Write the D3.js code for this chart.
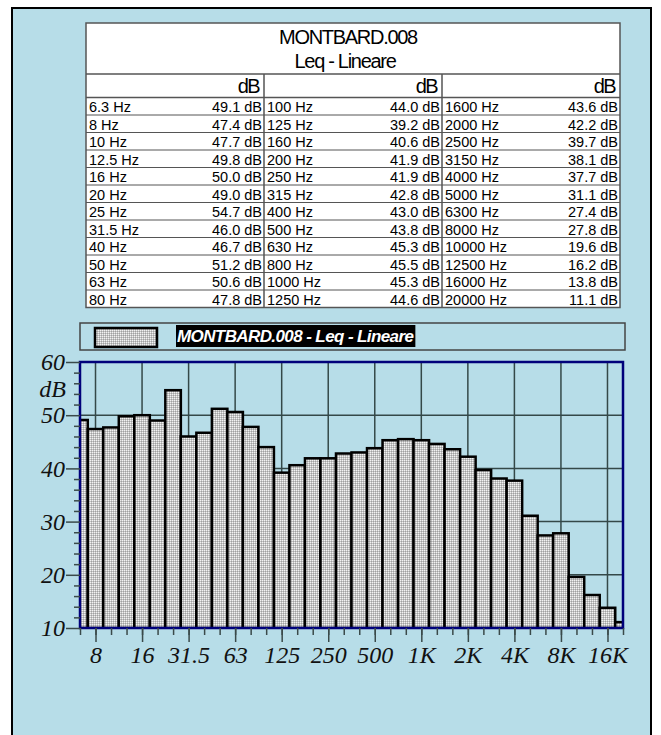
<!DOCTYPE html>
<html>
<head>
<meta charset="utf-8">
<script src="https://cdn.jsdelivr.net/npm/d3@7"></script>
<style>
body { margin: 0; background: #fff; }
</style>
</head>
<body>
<div id="chart_id"></div>
<script>
// third-octave bands and their Leq levels
var bands = ["6.3 Hz", "8 Hz", "10 Hz", "12.5 Hz", "16 Hz", "20 Hz", "25 Hz", "31.5 Hz", "40 Hz", "50 Hz", "63 Hz", "80 Hz",
  "100 Hz", "125 Hz", "160 Hz", "200 Hz", "250 Hz", "315 Hz", "400 Hz", "500 Hz", "630 Hz", "800 Hz", "1000 Hz", "1250 Hz",
  "1600 Hz", "2000 Hz", "2500 Hz", "3150 Hz", "4000 Hz", "5000 Hz", "6300 Hz", "8000 Hz", "10000 Hz", "12500 Hz", "16000 Hz", "20000 Hz"];
var levels = [49.1, 47.4, 47.7, 49.8, 50.0, 49.0, 54.7, 46.0, 46.7, 51.2, 50.6, 47.8,
  44.0, 39.2, 40.6, 41.9, 41.9, 42.8, 43.0, 43.8, 45.3, 45.5, 45.3, 44.6,
  43.6, 42.2, 39.7, 38.1, 37.7, 31.1, 27.4, 27.8, 19.6, 16.2, 13.8, 11.1];
var tickBands = ["8 Hz", "16 Hz", "31.5 Hz", "63 Hz", "125 Hz", "250 Hz", "500 Hz", "1000 Hz", "2000 Hz", "4000 Hz", "8000 Hz", "16000 Hz"];
var tickLabels = ["8", "16", "31.5", "63", "125", "250", "500", "1K", "2K", "4K", "8K", "16K"];
var yTicks = [10, 20, 30, 40, 50, 60];
var yMinor = [12, 14, 16, 18, 22, 24, 26, 28, 32, 34, 36, 38, 42, 44, 46, 48, 52, 54, 56, 58];
var title1 = "MONTBARD.008";
var title2 = "Leq - Lineare";
var legendLabel = "MONTBARD.008 - Leq - Lineare";

var W = 661, H = 735;
var svg = d3.select("#chart_id").append("svg").attr("width", W).attr("height", H);

// dither fill of the bars
var defs = svg.append("defs");
var pat = defs.append("pattern").attr("id", "dots").attr("width", 2).attr("height", 2).attr("patternUnits", "userSpaceOnUse");
pat.append("rect").attr("width", 2).attr("height", 2).attr("fill", "#c4c4c4");
pat.append("rect").attr("width", 1).attr("height", 1).attr("fill", "#f2f2f2");
pat.append("rect").attr("x", 1).attr("y", 1).attr("width", 1).attr("height", 1).attr("fill", "#a0a0a0");

// outer frame
svg.append("rect").attr("x", 12).attr("y", 8).attr("width", 639).attr("height", 760)
  .attr("fill", "#b7dde8").attr("stroke", "#000").attr("stroke-width", 2);

// ---- table ----
var tx0 = 86, tx1 = 620, ty0 = 23, tTitle = 74, tHead = 97.5, rowH = 17.5;
var colW = (tx1 - tx0) / 3;
var ty1 = tHead + 12 * rowH;
var tg = svg.append("g");
tg.append("rect").attr("x", tx0).attr("y", ty0).attr("width", tx1 - tx0).attr("height", ty1 - ty0)
  .attr("fill", "#fff").attr("stroke", "#555").attr("stroke-width", 1.5);
tg.append("text").attr("x", (tx0 + tx1) / 2 - 5).attr("y", 44).attr("text-anchor", "middle")
  .style("font", "20px 'Liberation Sans', Arial, sans-serif").style("letter-spacing", "-1.3px").text(title1);
tg.append("text").attr("x", (tx0 + tx1) / 2 - 8).attr("y", 68).attr("text-anchor", "middle")
  .style("font", "20px 'Liberation Sans', Arial, sans-serif").style("letter-spacing", "-1.3px").text(title2);
tg.append("line").attr("x1", tx0).attr("x2", tx1).attr("y1", tTitle).attr("y2", tTitle).attr("stroke", "#555").attr("stroke-width", 1.5);
tg.append("line").attr("x1", tx0).attr("x2", tx1).attr("y1", tHead).attr("y2", tHead).attr("stroke", "#555").attr("stroke-width", 1.5);
tg.selectAll(".rowline").data(d3.range(1, 12)).enter().append("line")
  .attr("x1", tx0).attr("x2", tx1)
  .attr("y1", function(r) { return tHead + r * rowH; }).attr("y2", function(r) { return tHead + r * rowH; })
  .attr("stroke", "#555").attr("stroke-width", 1);
tg.selectAll(".colline").data([1, 2]).enter().append("line")
  .attr("x1", function(c) { return tx0 + c * colW; }).attr("x2", function(c) { return tx0 + c * colW; })
  .attr("y1", tTitle).attr("y2", ty1).attr("stroke", "#555").attr("stroke-width", 1.5);
tg.selectAll(".head").data([0, 1, 2]).enter().append("text")
  .attr("x", function(c) { return tx0 + (c + 1) * colW - 5; }).attr("y", 93).attr("text-anchor", "end")
  .style("font", "20px 'Liberation Sans', Arial, sans-serif").style("letter-spacing", "-1.6px").text("dB");

var cells = tg.selectAll(".cell").data(bands).enter().append("g")
  .attr("transform", function(d, i) {
    var c = Math.floor(i / 12), r = i % 12;
    return "translate(" + (tx0 + c * colW) + "," + (tHead + (r + 1) * rowH - 3) + ")";
  });
cells.append("text").attr("x", 3).style("font", "14.5px 'Liberation Sans', Arial, sans-serif").text(function(d) { return d; });
cells.append("text").attr("x", colW - 2).attr("text-anchor", "end")
  .style("font", "14.5px 'Liberation Sans', Arial, sans-serif")
  .text(function(d, i) { return d3.format(".1f")(levels[i]) + " dB"; });

// ---- legend ----
var lg = svg.append("g");
lg.append("rect").attr("x", 80).attr("y", 323).attr("width", 545).attr("height", 27)
  .attr("fill", "none").attr("stroke", "#444").attr("stroke-width", 1.5);
lg.append("rect").attr("x", 95).attr("y", 328).attr("width", 62).attr("height", 19)
  .attr("fill", "url(#dots)").attr("stroke", "#000").attr("stroke-width", 2.5);
var lbg = lg.append("rect").attr("x", 176).attr("y", 325).attr("height", 22).attr("fill", "#000");
var lt = lg.append("text").attr("x", 177).attr("y", 342).attr("fill", "#fff")
  .style("font", "italic bold 17px 'Liberation Sans', Arial, sans-serif").style("letter-spacing", "-0.6px")
  .text(legendLabel);
lbg.attr("width", lt.node().getComputedTextLength() + 3);

// ---- chart ----
var px0 = 80, px1 = 623, py0 = 362, py1 = 628;
var x = d3.scalePoint().domain(bands).range([px0, px1]);
var y = d3.scaleLinear().domain([10, 60]).range([py1, py0]);
var step = x.step();

var grid = "#344848";
svg.append("g").selectAll("line").data([20, 30, 40, 50]).enter().append("line")
  .attr("x1", px0).attr("x2", px1).attr("y1", y).attr("y2", y)
  .attr("stroke", grid).attr("stroke-width", 1.5);
svg.append("g").selectAll("line").data(tickBands).enter().append("line")
  .attr("x1", x).attr("x2", x).attr("y1", py0).attr("y2", py1)
  .attr("stroke", grid).attr("stroke-width", 1.5);

defs.append("clipPath").attr("id", "plotclip").append("rect")
  .attr("x", px0).attr("y", py0 - 5).attr("width", px1 - px0).attr("height", py1 - py0 + 5);

svg.append("g").attr("clip-path", "url(#plotclip)").selectAll("rect").data(bands).enter().append("rect")
  .attr("x", function(d) { return x(d) - step / 2; })
  .attr("width", step)
  .attr("y", function(d, i) { return y(levels[i]); })
  .attr("height", function(d, i) { return py1 - y(levels[i]); })
  .attr("fill", "url(#dots)").attr("stroke", "#000").attr("stroke-width", 2.5);

// plot frame
svg.append("rect").attr("x", px0).attr("y", py0).attr("width", px1 - px0).attr("height", py1 - py0)
  .attr("fill", "none").attr("stroke", "#00007a").attr("stroke-width", 2.5);

var labFont = "italic 24px 'Liberation Serif', 'Times New Roman', serif";

// y axis
var yAxis = svg.append("g").attr("transform", "translate(" + px0 + ",0)")
  .call(d3.axisLeft(y).tickValues(yTicks).tickSize(14).tickPadding(1));
var yMinAxis = svg.append("g").attr("transform", "translate(" + px0 + ",0)")
  .call(d3.axisLeft(y).tickValues(yMinor).tickSize(6).tickFormat(""));
var yUnit = svg.append("g").attr("transform", "translate(" + px0 + ",0)")
  .call(d3.axisLeft(y).tickValues([55]).tickSize(0).tickPadding(14).tickFormat(function() { return "dB"; }));

// x axis
var xAxis = svg.append("g").attr("transform", "translate(0," + py1 + ")")
  .call(d3.axisBottom(x).tickValues(tickBands).tickSize(14).tickPadding(4)
    .tickFormat(function(d, i) { return tickLabels[i]; }));
var xMinAxis = svg.append("g").attr("transform", "translate(0," + py1 + ")")
  .call(d3.axisBottom(x).tickValues(bands).tickSize(7).tickFormat(""));

[yAxis, yMinAxis, yUnit, xAxis, xMinAxis].forEach(function(a) {
  a.select(".domain").remove();
  a.selectAll(".tick line").attr("stroke", "#3a4a4a").attr("stroke-width", 1.5);
  a.selectAll(".tick text").attr("fill", "#111").style("font", labFont);
});
</script>
</body>
</html>
